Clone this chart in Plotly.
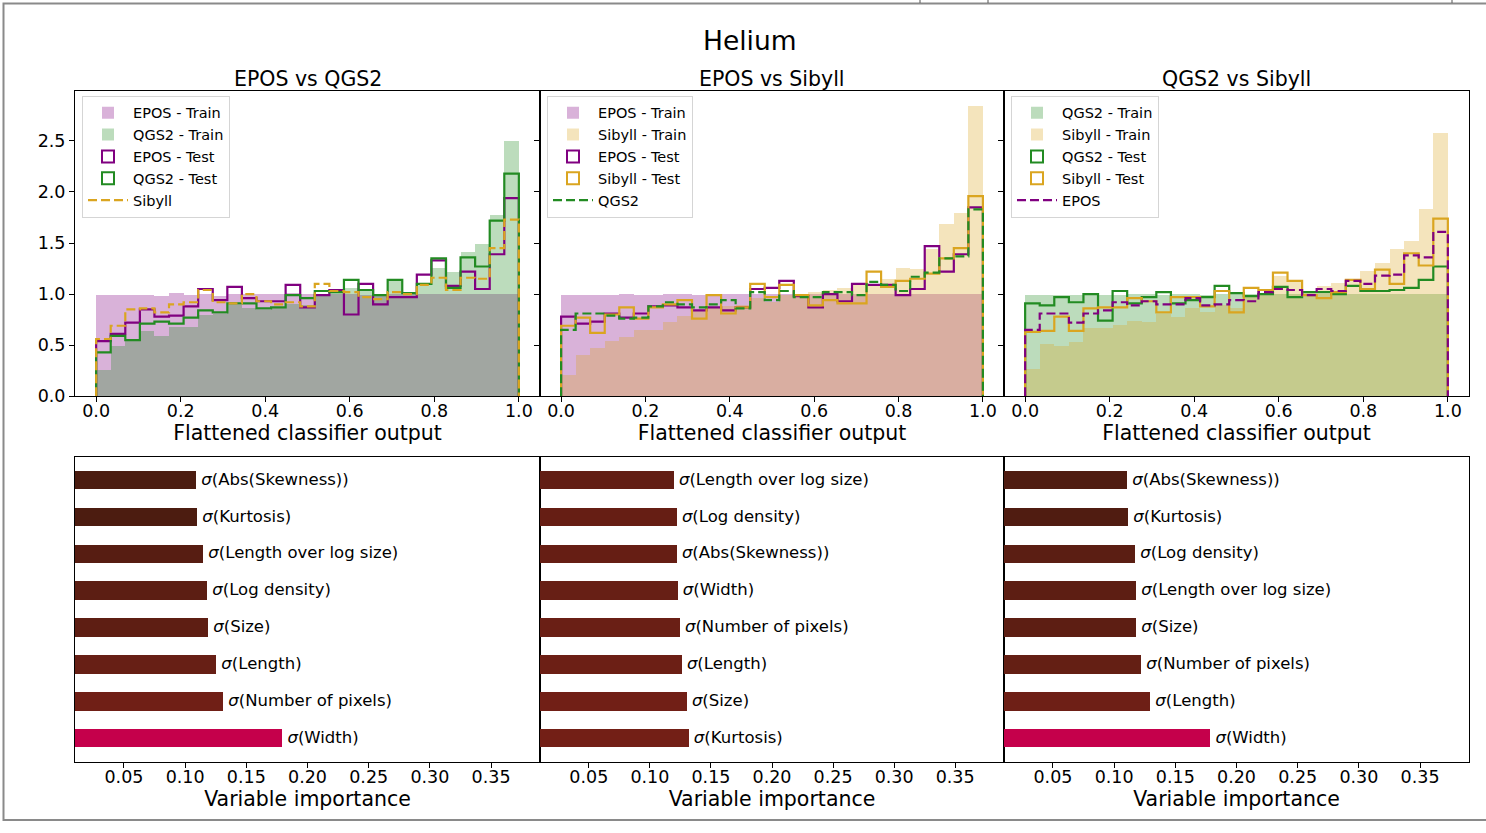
import numpy as np
import plotly.graph_objects as go

# ------------------------------------------------------------------ data
n_bins = 29
bin_edges = np.linspace(0.0, 1.0, n_bins + 1)

# Panel 1 : EPOS vs QGS2
p1_epos_train = [0.99, 0.99, 0.99, 0.99, 0.98, 1.01, 0.99, 1.00, 0.98, 1.00, 1.00, 1.00, 1.00, 1.01, 1.00,
                 1.00, 1.00, 1.00, 0.99, 1.00, 1.00, 1.00, 1.00, 1.00, 1.00, 1.00, 1.00, 1.00, 1.00]
p1_qgs2_train = [0.26, 0.49, 0.55, 0.64, 0.59, 0.68, 0.68, 0.80, 0.81, 0.89, 0.86, 0.85, 0.86, 0.90, 0.89,
                 0.98, 1.02, 1.06, 1.05, 1.00, 1.14, 1.02, 1.09, 1.26, 1.22, 1.41, 1.49, 1.78, 2.50]
p1_epos_test = [0.54, 0.61, 0.72, 0.85, 0.78, 0.79, 0.88, 1.05, 0.94, 1.07, 0.96, 0.93, 0.93, 1.09, 0.87,
                0.99, 1.04, 0.80, 1.10, 0.90, 0.97, 0.97, 1.19, 1.33, 1.08, 1.22, 1.05, 1.39, 1.94]
p1_qgs2_test = [0.43, 0.59, 0.55, 0.71, 0.73, 0.71, 0.77, 0.84, 0.82, 0.91, 0.91, 0.86, 0.87, 0.99, 0.96,
                1.03, 1.02, 1.14, 1.04, 0.99, 1.14, 1.01, 1.10, 1.35, 1.06, 1.36, 1.27, 1.72, 2.18]
p1_sibyll = [0.56, 0.69, 0.85, 0.86, 0.82, 0.90, 0.92, 1.04, 0.92, 0.91, 1.00, 0.93, 0.90, 0.92, 0.88,
             1.10, 1.03, 1.02, 0.97, 0.95, 1.02, 1.00, 1.09, 1.16, 1.04, 1.16, 1.15, 1.45, 1.73]

# Panel 2 : EPOS vs Sibyll
p2_epos_train = [0.99, 0.99, 0.99, 0.99, 1.00, 0.99, 0.99, 1.00, 1.00, 0.99, 1.00, 1.00, 1.00, 1.00, 1.00,
                 1.00, 1.00, 1.00, 1.00, 1.00, 1.00, 1.00, 1.00, 1.00, 1.00, 1.00, 1.00, 1.00, 1.00]
p2_sibyll_train = [0.21, 0.40, 0.47, 0.54, 0.58, 0.65, 0.65, 0.73, 0.79, 0.84, 0.86, 0.88, 0.89, 0.96, 0.92,
                   0.99, 0.99, 1.02, 1.04, 1.06, 1.09, 1.10, 1.15, 1.26, 1.25, 1.44, 1.69, 1.80, 2.84]
p2_epos_test = [0.78, 0.71, 0.73, 0.81, 0.77, 0.81, 0.88, 0.89, 0.87, 0.84, 0.87, 0.84, 0.87, 1.05, 1.06,
                1.13, 0.98, 0.87, 1.00, 0.93, 1.10, 1.09, 1.09, 0.99, 1.05, 1.47, 1.22, 1.39, 1.85]
p2_sibyll_test = [0.69, 0.77, 0.62, 0.80, 0.87, 0.76, 0.87, 0.90, 0.94, 0.76, 0.99, 0.81, 0.87, 1.10, 0.97,
                  1.09, 0.99, 0.89, 0.94, 0.91, 0.91, 1.22, 1.07, 1.13, 1.15, 1.20, 1.35, 1.45, 1.96]
p2_qgs2 = [0.65, 0.81, 0.81, 0.79, 0.76, 0.77, 0.88, 0.92, 0.90, 0.87, 0.90, 0.94, 0.86, 1.02, 0.94,
           1.03, 0.97, 0.97, 1.02, 1.02, 0.99, 1.12, 1.09, 1.03, 1.17, 1.21, 1.35, 1.37, 1.83]

# Panel 3 : QGS2 vs Sibyll
p3_qgs2_train = [0.99, 0.99, 0.99, 0.99, 1.00, 0.99, 0.99, 1.00, 1.00, 0.99, 1.00, 1.00, 0.99, 1.00, 1.00,
                 1.00, 1.00, 1.00, 1.00, 1.00, 1.00, 1.00, 1.00, 1.00, 1.00, 1.00, 1.00, 1.00, 1.00]
p3_sibyll_train = [0.27, 0.51, 0.49, 0.53, 0.67, 0.67, 0.70, 0.74, 0.73, 0.81, 0.78, 0.86, 0.83, 0.89, 0.86,
                   0.98, 0.99, 1.18, 1.12, 1.03, 1.08, 1.11, 1.15, 1.23, 1.31, 1.44, 1.52, 1.83, 2.58]
p3_qgs2_test = [0.91, 0.89, 0.97, 0.92, 1.00, 0.74, 1.03, 0.91, 0.97, 1.02, 0.91, 0.94, 0.97, 1.08, 1.01,
                0.98, 1.00, 1.07, 0.97, 1.02, 1.02, 1.00, 1.08, 1.03, 1.03, 1.04, 1.06, 1.14, 1.27]
p3_sibyll_test = [0.63, 0.64, 0.78, 0.64, 0.86, 0.87, 0.87, 0.96, 0.93, 0.82, 0.97, 0.97, 0.88, 1.03, 0.82,
                  1.06, 1.04, 1.21, 1.13, 0.99, 0.96, 1.02, 1.14, 1.05, 1.24, 1.10, 1.40, 1.28, 1.74]
p3_epos = [0.65, 0.81, 0.81, 0.72, 0.81, 0.84, 0.92, 0.89, 0.93, 0.90, 0.90, 0.96, 0.89, 0.90, 0.94,
           0.93, 1.02, 1.05, 1.04, 0.99, 1.05, 1.03, 1.13, 1.10, 1.18, 1.19, 1.38, 1.36, 1.61]

# Variable importances (listed top to bottom)
imp1_labels = ["Abs(Skewness)", "Kurtosis", "Length over log size", "Log density",
               "Size", "Length", "Number of pixels", "Width"]
imp1_values = [0.1089, 0.1097, 0.1147, 0.1179, 0.1187, 0.1253, 0.1310, 0.1793]

imp2_labels = ["Length over log size", "Log density", "Abs(Skewness)", "Width",
               "Number of pixels", "Length", "Size", "Kurtosis"]
imp2_values = [0.1195, 0.1219, 0.1219, 0.1227, 0.1244, 0.1260, 0.1301, 0.1317]

imp3_labels = ["Abs(Skewness)", "Kurtosis", "Log density", "Length over log size",
               "Size", "Number of pixels", "Length", "Width"]
imp3_values = [0.1106, 0.1114, 0.1171, 0.1179, 0.1179, 0.1220, 0.1294, 0.1785]

hist_titles = ["EPOS vs QGS2", "EPOS vs Sibyll", "QGS2 vs Sibyll"]
x_ticks_hist = [0.0, 0.2, 0.4, 0.6, 0.8, 1.0]
y_ticks_hist = [0.0, 0.5, 1.0, 1.5, 2.0, 2.5]
x_ticks_imp = [0.05, 0.10, 0.15, 0.20, 0.25, 0.30, 0.35]

# ------------------------------------------------------------------ style
W, H = 1486, 833
FONT = "DejaVu Sans"
PURPLE = (128, 0, 128)
GREEN = (34, 139, 34)
GOLD = (218, 165, 32)

imp1_colors = ["#4b1c10", "#4c1c10", "#571d12", "#5c1e13", "#5e1e13", "#671f15", "#701f16", "#c5004b"]
imp2_colors = ["#621e14", "#661e14", "#661e14", "#671f15", "#6a1f15", "#6c1f15", "#711f16", "#731f16"]
imp3_colors = ["#4f1c11", "#501c11", "#5b1e13", "#5d1e13", "#5d1e13", "#641f14", "#6e1f16", "#c5004b"]


def rgb(c, a=None):
    if a is None:
        return "rgb(%d,%d,%d)" % c
    return "rgba(%d,%d,%d,%.2f)" % (c[0], c[1], c[2], a)


def px_x(x):
    return x / W


def px_y(y):
    return 1 - y / H


centers = 0.5 * (bin_edges[:-1] + bin_edges[1:])
bw = bin_edges[1] - bin_edges[0]


def step_xy(vals):
    xs = [bin_edges[0]] + list(bin_edges) + [bin_edges[-1]]
    ys = [0.0] + list(vals) + [vals[-1], 0.0]
    return xs, ys


panels = [
    dict(train=[("EPOS - Train", PURPLE, p1_epos_train), ("QGS2 - Train", GREEN, p1_qgs2_train)],
         test=[("EPOS - Test", PURPLE, p1_epos_test), ("QGS2 - Test", GREEN, p1_qgs2_test)],
         other=("Sibyll", GOLD, p1_sibyll)),
    dict(train=[("EPOS - Train", PURPLE, p2_epos_train), ("Sibyll - Train", GOLD, p2_sibyll_train)],
         test=[("EPOS - Test", PURPLE, p2_epos_test), ("Sibyll - Test", GOLD, p2_sibyll_test)],
         other=("QGS2", GREEN, p2_qgs2)),
    dict(train=[("QGS2 - Train", GREEN, p3_qgs2_train), ("Sibyll - Train", GOLD, p3_sibyll_train)],
         test=[("QGS2 - Test", GREEN, p3_qgs2_test), ("Sibyll - Test", GOLD, p3_sibyll_test)],
         other=("EPOS", PURPLE, p3_epos)),
]
importances = [(imp1_labels, imp1_values, imp1_colors),
               (imp2_labels, imp2_values, imp2_colors),
               (imp3_labels, imp3_values, imp3_colors)]

fig = go.Figure()
legend_names = ["legend", "legend2", "legend3"]
LW = 2.2

for k, p in enumerate(panels):
    xa = "x" if k == 0 else "x%d" % (k + 1)
    ya = "y" if k == 0 else "y%d" % (k + 1)
    lg = legend_names[k]
    for name, col, vals in p["train"]:
        fig.add_trace(go.Bar(x=centers, y=vals, width=bw, name=name,
                             marker=dict(color=rgb(col, 0.3), line=dict(width=0)),
                             xaxis=xa, yaxis=ya, legend=lg, hoverinfo="skip"))
    for name, col, vals in p["test"]:
        fig.add_trace(go.Bar(x=[None], y=[None], name=name,
                             marker=dict(color="rgba(255,255,255,0)", line=dict(color=rgb(col), width=2)),
                             xaxis=xa, yaxis=ya, legend=lg))
    for name, col, vals in p["test"]:
        sx, sy = step_xy(vals)
        fig.add_trace(go.Scatter(x=sx, y=sy, mode="lines", line=dict(color=rgb(col), width=LW, shape="hv"),
                                 showlegend=False, xaxis=xa, yaxis=ya, hoverinfo="skip"))
    name, col, vals = p["other"]
    sx, sy = step_xy(vals)
    fig.add_trace(go.Scatter(x=sx, y=sy, mode="lines", name=name,
                             line=dict(color=rgb(col), width=LW, shape="hv", dash="9px,4px"),
                             xaxis=xa, yaxis=ya, legend=lg, hoverinfo="skip"))

for k, (labels, vals, cols) in enumerate(importances):
    xa = "x%d" % (k + 4)
    ya = "y%d" % (k + 4)
    pos = list(range(len(labels)))
    fig.add_trace(go.Bar(x=vals, y=pos, orientation="h", width=0.5,
                         marker=dict(color=cols, line=dict(width=0)),
                         showlegend=False, xaxis=xa, yaxis=ya))
    fig.add_trace(go.Scatter(x=vals, y=pos, mode="text",
                             text=[" <i>σ</i>(%s)" % s for s in labels],
                             textposition="middle right",
                             textfont=dict(family=FONT, size=16.5, color="black"),
                             cliponaxis=False, showlegend=False, xaxis=xa, yaxis=ya))

# ------------------------------------------------------------------ layout
cols_px = [(75, 540), (540, 1004), (1004, 1469)]
top_dom = [px_y(401), px_y(92)]
bot_dom = [px_y(771), px_y(463)]

axis_common = dict(showline=True, linecolor="black", linewidth=1, mirror=True, showgrid=False,
                   zeroline=False, ticks="outside", ticklen=5, tickwidth=1, tickcolor="black",
                   tickfont=dict(family=FONT, size=17.5, color="black"))

layout = dict(width=W, height=H, margin=dict(l=0, r=0, t=0, b=0), plot_bgcolor="white",
              paper_bgcolor="white", barmode="overlay", bargap=0,
              font=dict(family=FONT, color="black"))

for k in range(3):
    d = [px_x(cols_px[k][0]), px_x(cols_px[k][1])]
    xn = "xaxis" if k == 0 else "xaxis%d" % (k + 1)
    yn = "yaxis" if k == 0 else "yaxis%d" % (k + 1)
    layout[xn] = dict(axis_common, domain=d, range=[-0.05, 1.05], tickvals=x_ticks_hist, tickformat=".1f",
                      anchor="y" if k == 0 else "y%d" % (k + 1), ticklabelstandoff=-6,
                      title=dict(text="Flattened classifier output", font=dict(family=FONT, size=20.5),
                                 standoff=4))
    layout[yn] = dict(axis_common, domain=top_dom, range=[0, 2.99], tickvals=y_ticks_hist, tickformat=".1f",
                      showticklabels=(k == 0), anchor="x" if k == 0 else "x%d" % (k + 1))
    xn2 = "xaxis%d" % (k + 4)
    yn2 = "yaxis%d" % (k + 4)
    layout[xn2] = dict(axis_common, domain=d, range=[0.01, 0.39], tickvals=x_ticks_imp, tickformat=".2f",
                       anchor="y%d" % (k + 4), ticklabelstandoff=-6,
                       title=dict(text="Variable importance", font=dict(family=FONT, size=20.5), standoff=3))
    layout[yn2] = dict(axis_common, domain=bot_dom, range=[7.625, -0.625], showticklabels=False, ticks="",
                       anchor="x%d" % (k + 4))

legend_x = [82, 547, 1011]
for k, lg in enumerate(legend_names):
    layout[lg] = dict(x=px_x(legend_x[k]), y=px_y(97), xanchor="left", yanchor="top",
                      bgcolor="rgba(255,255,255,0.8)", bordercolor="#d5d5d5", borderwidth=1,
                      itemwidth=40,
                      font=dict(family=FONT, size=14.5, color="black"), traceorder="normal")

annotations = [dict(text="Helium", x=px_x(749.5), y=px_y(41), xref="paper", yref="paper",
                    showarrow=False, font=dict(family=FONT, size=26.5, color="black"),
                    xanchor="center", yanchor="middle")]
for k, t in enumerate(hist_titles):
    annotations.append(dict(text=t, x=px_x((cols_px[k][0] + cols_px[k][1]) / 2), y=px_y(80),
                            xref="paper", yref="paper", showarrow=False,
                            font=dict(family=FONT, size=20.5, color="black"),
                            xanchor="center", yanchor="middle"))
layout["annotations"] = annotations

shapes = [dict(type="rect", xref="paper", yref="paper", x0=px_x(3.5), x1=px_x(1495),
               y0=px_y(830), y1=px_y(3.5), line=dict(color="#8a8a8a", width=2), layer="below")]
for xv in [920, 988, 1452]:
    shapes.append(dict(type="line", xref="paper", yref="paper", x0=px_x(xv), x1=px_x(xv),
                       y0=px_y(0), y1=px_y(3), line=dict(color="#555555", width=1)))
layout["shapes"] = shapes

fig.update_layout(**layout)
fig.write_html("out.html")
